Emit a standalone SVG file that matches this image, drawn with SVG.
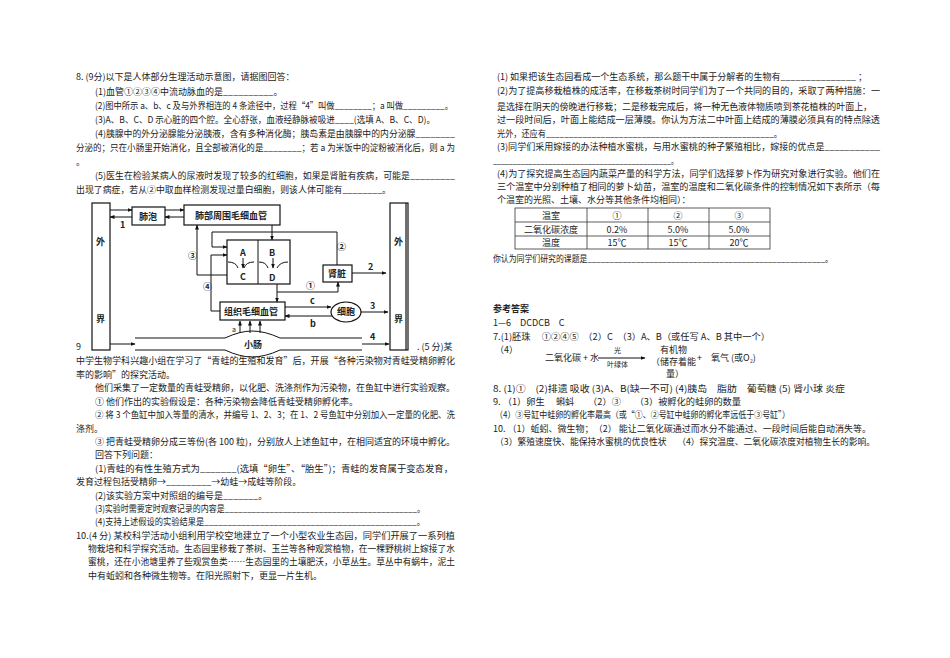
<svg xmlns="http://www.w3.org/2000/svg" width="950" height="658" viewBox="0 0 950 658">
<defs>
<marker id="ar" viewBox="0 0 10 10" refX="9" refY="5" markerWidth="5" markerHeight="5" orient="auto"><path d="M0,1 L10,5 L0,9 z" fill="#111"/></marker>
<style>
text{font-family:"Noto Sans CJK SC","Liberation Serif",serif;font-size:9px;fill:#222}
.b{fill:#fff;stroke:#111;stroke-width:1.2}
.l{fill:none;stroke:#111;stroke-width:1}
.a{fill:none;stroke:#111;stroke-width:1;marker-end:url(#ar)}
.n{font-size:9px;font-weight:bold}
.t{fill:none;stroke:#333;stroke-width:0.8}
</style>
</defs>
<rect width="950" height="658" fill="#fff"/>
<g id="left-text">
<text x="76" y="80">8. (9分)以下是人体部分生理活动示意图，请据图回答：</text>
<text x="95" y="95">(1)血管①②③④中流动脉血的是__________。</text>
<text x="95" y="109" textLength="358" lengthAdjust="spacingAndGlyphs">(2)图中所示 a、b、c 及与外界相连的 4 条途径中，过程“4”叫做________；a 叫做_________。</text>
<text x="95" y="123" textLength="340" lengthAdjust="spacingAndGlyphs">(3)A、B、C、D 示心脏的四个腔。全心舒张，血液经静脉被吸进____(选填 A、B、C、D)。</text>
<text x="95" y="137" textLength="360" lengthAdjust="spacingAndGlyphs">(4)胰腺中的外分泌腺能分泌胰液，含有多种消化酶；胰岛素是由胰腺中的内分泌腺________</text>
<text x="76" y="151" textLength="379" lengthAdjust="spacingAndGlyphs">分泌的；只在小肠里开始消化，且全部被消化的是________；若 a 为米饭中的淀粉被消化后，则 a 为</text>
<text x="76" y="165">。</text>
<text x="95" y="179" textLength="360" lengthAdjust="spacingAndGlyphs">(5)医生在检验某病人的尿液时发现了较多的红细胞，如果是肾脏有疾病，可能是_________</text>
<text x="76" y="193" textLength="315" lengthAdjust="spacingAndGlyphs">出现了病症，若从②中取血样检测发现过量白细胞，则该人体可能有________。</text>
<text x="76" y="350">9</text>
<text x="417" y="350">. (5 分)某</text>
<text x="76" y="364" textLength="379" lengthAdjust="spacingAndGlyphs">中学生物学科兴趣小组在学习了“青蛙的生殖和发育”后，开展“各种污染物对青蛙受精卵孵化</text>
<text x="76" y="378">率的影响”的探究活动。</text>
<text x="95" y="391" textLength="360" lengthAdjust="spacingAndGlyphs">他们采集了一定数量的青蛙受精卵，以化肥、洗涤剂作为污染物，在鱼缸中进行实验观察。</text>
<text x="95" y="405">① 他们作出的实验假设是：各种污染物会降低青蛙受精卵孵化率。</text>
<text x="95" y="418" textLength="360" lengthAdjust="spacingAndGlyphs">② 将 3 个鱼缸中加入等量的清水，并编号 1、2、3；在 1、2 号鱼缸中分别加入一定量的化肥、洗</text>
<text x="76" y="432">涤剂。</text>
<text x="95" y="445" textLength="360" lengthAdjust="spacingAndGlyphs">③ 把青蛙受精卵分成三等份(各 100 粒)，分别放人上述鱼缸中，在相同适宜的环境中孵化。</text>
<text x="95" y="458">回答下列问题：</text>
<text x="95" y="472" textLength="358" lengthAdjust="spacingAndGlyphs">(1)青蛙的有性生殖方式为_______(选填“卵生”、“胎生”)；青蛙的发育属于变态发育，</text>
<text x="76" y="485">发育过程包括受精卵→_________→幼蛙→成蛙等阶段。</text>
<text x="95" y="499">(2)该实验方案中对照组的编号是_______。</text>
<text x="95" y="512" textLength="330" lengthAdjust="spacingAndGlyphs">(3)实验时需要定时观察记录的内容是___________________________________________。</text>
<text x="95" y="525" textLength="330" lengthAdjust="spacingAndGlyphs">(4)支持上述假设的实验结果是______________________________________________。</text>
<text x="76" y="539" textLength="379" lengthAdjust="spacingAndGlyphs">10.(4 分) 某校科学活动小组利用学校空地建立了一个小型农业生态园，同学们开展了一系列植</text>
<text x="88" y="552" textLength="367" lengthAdjust="spacingAndGlyphs">物栽培和科学探究活动。生态园里移栽了茶树、玉兰等各种观赏植物，在一棵野桃树上嫁接了水</text>
<text x="88" y="565" textLength="367" lengthAdjust="spacingAndGlyphs">蜜桃，还在小池塘里养了些观赏鱼类……生态园里的土壤肥沃，小草丛生。草丛中有蜗牛，泥土</text>
<text x="88" y="579">中有蚯蚓和各种微生物等。在阳光照射下，更显一片生机。</text>
</g>
<g id="node-waijie-l"><rect class="b" x="92" y="203" width="18" height="147"/><text class="n" x="96" y="245">外</text><text class="n" x="96" y="322">界</text></g>
<g id="node-waijie-r"><rect class="b" x="390" y="203" width="18" height="147"/><line x1="406" y1="203" x2="406" y2="350" stroke="#111" stroke-width="1.2"/><text class="n" x="394" y="245">外</text><text class="n" x="394" y="322">界</text></g>
<g id="node-feipao"><rect class="b" x="132" y="207" width="33" height="18"/><text class="n" x="139" y="220">肺泡</text></g>
<g id="node-feibu"><rect class="b" x="184" y="205" width="96" height="20"/><text class="n" x="195" y="219">肺部周围毛细血管</text></g>
<g id="node-heart"><rect class="b" x="227" y="240" width="63" height="44"/><line class="l" x1="258" y1="240" x2="258" y2="284"/>
<text class="n" x="240" y="256">A</text><text class="n" x="240" y="280">C</text><text class="n" x="269" y="256">B</text><text class="n" x="269" y="281">D</text>
<path class="l" d="M228,262 Q236,262 238,268 M254,262 Q246,262 244,268 M259,262 Q266,262 268,268 M288,262 Q280,262 277,268"/>
<line class="a" x1="243" y1="258" x2="243" y2="268"/><line class="a" x1="273" y1="258" x2="273" y2="268"/></g>
<g id="node-shenzang"><rect class="b" x="323" y="265" width="29" height="17"/><text class="n" x="328" y="277">肾脏</text></g>
<g id="node-zuzhi"><rect class="b" x="220" y="302" width="65" height="18"/><text class="n" x="224" y="315">组织毛细血管</text></g>
<g id="node-xibao"><ellipse class="b" cx="346" cy="312" rx="15" ry="10"/><text class="n" x="337" y="315">细胞</text></g>
<g id="node-xiaochang"><path class="l" d="M135,338 L225,338 Q240,331 252,331 Q265,331 280,338 L362,338 M135,350 L225,350 Q240,357 252,357 Q265,357 280,350 L362,350"/><text class="n" x="244" y="348">小肠</text></g>
<g id="connectors">
<line class="a" x1="110" y1="210" x2="132" y2="210"/><line class="a" x1="132" y1="217" x2="110" y2="217"/>
<line class="a" x1="165" y1="210" x2="184" y2="210"/><line class="a" x1="184" y1="217" x2="165" y2="217"/>
<line class="a" x1="272" y1="225" x2="272" y2="240"/>
<polyline class="a" points="227,275 197,275 197,225"/>
<polyline class="a" points="337,265 337,232 212,232 212,247 227,247"/>
<polyline class="a" points="220,311 211,311 211,255 227,255"/>
<line class="a" x1="277" y1="284" x2="277" y2="302"/>
<polyline class="a" points="277,292 338,292 338,282"/>
<line class="a" x1="352" y1="273" x2="386" y2="273"/>
<line class="a" x1="285" y1="307" x2="331" y2="307"/>
<line class="a" x1="332" y1="316" x2="285" y2="316"/>
<line class="a" x1="361" y1="312" x2="388" y2="312"/>
<line class="a" x1="240" y1="333" x2="240" y2="321"/><line class="a" x1="250" y1="333" x2="250" y2="321"/><line class="a" x1="260" y1="333" x2="260" y2="321"/>
<line class="a" x1="110" y1="344" x2="135" y2="344"/>
<line class="a" x1="362" y1="344" x2="389" y2="344"/>
<text class="n" x="120" y="228">1</text><text class="n" x="188" y="259">③</text><text class="n" x="337" y="250">②</text><text class="n" x="203" y="290">④</text>
<text class="n" x="306" y="289">①</text><text class="n" x="368" y="270">2</text><text class="n" x="310" y="304">c</text><text class="n" x="310" y="327">b</text>
<text class="n" x="370" y="309">3</text><text x="232" y="332" style="font-size:7px">a</text><text class="n" x="370" y="340">4</text>
</g>
<g id="right-text">
<text x="497" y="80" textLength="370" lengthAdjust="spacingAndGlyphs">(1) 如果把该生态园看成一个生态系统，那么题干中属于分解者的生物有_______________ ；</text>
<text x="497" y="94" textLength="383" lengthAdjust="spacingAndGlyphs">(2)为了提高移栽植株的成活率，在移栽茶树时同学们为了一个共同的目的，采取了两种措施：一</text>
<text x="497" y="110" textLength="375" lengthAdjust="spacingAndGlyphs">是选择在阴天的傍晚进行移栽；二是移栽完成后，将一种无色液体物质喷到茶花植株的叶面上，</text>
<text x="497" y="123" textLength="383" lengthAdjust="spacingAndGlyphs">过一段时间后，叶面上能结成一层薄膜。你认为方法二中叶面上结成的薄膜必须具有的特点除透</text>
<text x="497" y="137" textLength="285" lengthAdjust="spacingAndGlyphs">光外，还应有__________________________________________________。</text>
<text x="497" y="150" textLength="383" lengthAdjust="spacingAndGlyphs">(3)同学们采用嫁接的办法种植水蜜桃，与用水蜜桃的种子繁殖相比，嫁接的优点是___________</text>
<text x="493" y="164" textLength="185" lengthAdjust="spacingAndGlyphs">_____________________________________________。</text>
<text x="497" y="177" textLength="383" lengthAdjust="spacingAndGlyphs">(4)为了探究提高生态园内蔬菜产量的科学方法，同学们选择萝卜作为研究对象进行实验。他们在</text>
<text x="497" y="190" textLength="383" lengthAdjust="spacingAndGlyphs">三个温室中分别种植了相同的萝卜幼苗，温室的温度和二氧化碳条件的控制情况如下表所示（每</text>
<text x="497" y="203">个温室的光照、土壤、水分等其他条件均相同）：</text>
</g>
<g id="table">
<rect class="t" x="515" y="208" width="255" height="41"/>
<line class="t" x1="515" y1="222" x2="770" y2="222"/><line class="t" x1="515" y1="236" x2="770" y2="236"/>
<line class="t" x1="587" y1="208" x2="587" y2="249"/><line class="t" x1="648" y1="208" x2="648" y2="249"/><line class="t" x1="709" y1="208" x2="709" y2="249"/>
<g text-anchor="middle">
<text x="551" y="219">温室</text><text x="617" y="219">①</text><text x="678" y="219">②</text><text x="739" y="219">③</text>
<text x="551" y="233">二氧化碳浓度</text><text x="617" y="233">0.2%</text><text x="678" y="233">5.0%</text><text x="739" y="233">5.0%</text>
<text x="551" y="246">温度</text><text x="617" y="246">15℃</text><text x="678" y="246">15℃</text><text x="739" y="246">20℃</text>
</g>
</g>
<g id="answers">
<text x="493" y="262" textLength="340" lengthAdjust="spacingAndGlyphs">你认为同学们研究的课题是______________________________________________________。</text>
<text x="493" y="312" style="font-weight:bold">参考答案</text>
<text x="493" y="326">1—6　DCDCB　C</text>
<text x="493" y="340" textLength="277" lengthAdjust="spacingAndGlyphs">7.(1)胚珠　 ①②④⑤　（2）C　（3）A、B（或任写 A、B 其中一个）</text>
<text x="495" y="353">（4）</text>
<text x="545" y="361">二氧化碳 + 水</text>
<line class="a" x1="598" y1="358" x2="645" y2="358"/>
<text x="614" y="353" style="font-size:7px">光</text><text x="607" y="367" style="font-size:7px">叶绿体</text>
<text x="660" y="353">有机物</text><text x="651" y="365">（储存着能</text><text x="666" y="377">量）</text>
<text x="697" y="361">+　氧气 (或O₂)</text>
<text x="493" y="392" textLength="352" lengthAdjust="spacingAndGlyphs">8. (1)①　(2)排遗 吸收 (3)A、B(缺一不可) (4)胰岛　脂肪　葡萄糖 (5) 肾小球 炎症</text>
<text x="493" y="405" textLength="248" lengthAdjust="spacingAndGlyphs">9. （1）卵生　 蝌蚪　　（2）③　　（3）被孵化的蛙卵的数量</text>
<text x="495" y="418" textLength="295" lengthAdjust="spacingAndGlyphs">（4）③号缸中蛙卵的孵化率最高（或“①、②号缸中蛙卵的孵化率远低于③号缸”）</text>
<text x="493" y="432" textLength="378" lengthAdjust="spacingAndGlyphs">10. （1）蚯蚓、微生物；　（2） 能让二氧化碳通过而水分不能通过、一段时间后能自动消失等。</text>
<text x="495" y="445" textLength="380" lengthAdjust="spacingAndGlyphs">（3）繁殖速度快、能保持水蜜桃的优良性状　 （4）探究温度、二氧化碳浓度对植物生长的影响。</text>
</g>
</svg>
